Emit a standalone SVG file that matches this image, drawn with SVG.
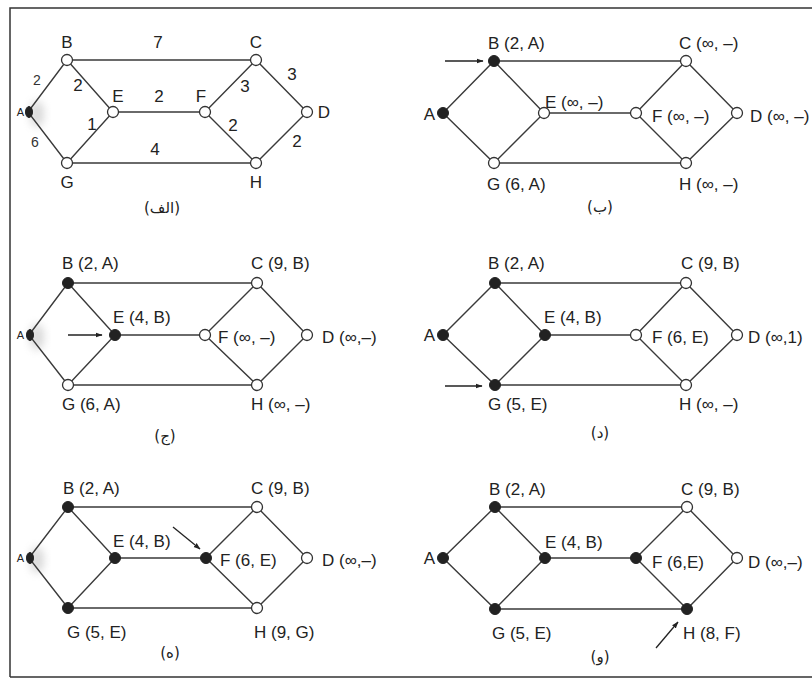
<svg xmlns="http://www.w3.org/2000/svg" width="812" height="687" viewBox="0 0 812 687">
  <style>
    .edge { stroke: #3a3a3a; stroke-width: 1.4; fill: none; }
    .open { fill: #ffffff; stroke: #333333; stroke-width: 1.3; }
    .done { fill: #222222; stroke: #222222; stroke-width: 1; }
    .lbl { font-family: "Liberation Sans", Arial, sans-serif; font-size: 17px; fill: #222222; }
    .w { font-family: "Liberation Sans", Arial, sans-serif; font-size: 17px; fill: #222222; text-anchor: middle; }
    .ws { font-family: "Liberation Sans", Arial, sans-serif; font-size: 14px; fill: #333333; text-anchor: middle; }
    .a-small { font-family: "Liberation Sans Narrow", "Liberation Sans", Arial, sans-serif; font-size: 11px; fill: #222222; text-anchor: end; }
    .cap { font-family: "DejaVu Sans", "Noto Sans", sans-serif; font-size: 15px; fill: #222222; text-anchor: middle; }
    .frame { stroke: #333333; stroke-width: 1.5; fill: none; }
    .ptr { stroke: #222222; stroke-width: 1.3; fill: none; marker-end: url(#head); }
  </style>
  <defs>
    <marker id="head" viewBox="0 0 10 10" refX="9" refY="5" markerWidth="7" markerHeight="7" markerUnits="userSpaceOnUse" orient="auto">
      <path d="M0,1.5 L10,5 L0,8.5 Z" fill="#222222"/>
    </marker>
    <filter id="haze" x="-50%" y="-50%" width="200%" height="200%">
      <feGaussianBlur stdDeviation="4"/>
    </filter>
    <filter id="soft" x="-50%" y="-50%" width="200%" height="200%">
      <feGaussianBlur stdDeviation="0.7"/>
    </filter>
  </defs>

  <rect width="812" height="687" fill="#ffffff"/>

  <!-- page frame -->
  <path class="frame" d="M10,677 V8 H812 M10,677 H812"/>

  <!-- grey smudge beside the source node on the left-hand panels -->
  <g id="smudges" fill="#a8a8a8" opacity="0.45" filter="url(#haze)">
    <ellipse cx="37" cy="114" rx="7" ry="13"/>
    <ellipse cx="37" cy="337" rx="7" ry="13"/>
    <ellipse cx="37" cy="560" rx="7" ry="13"/>
  </g>

  <!-- ===================== connectors ===================== -->
  <g id="connectors">
    <!-- panel (الف) -->
    <path class="edge" d="M28,112 L67,60 L256,60 L307,112 L256,163 L67,163 Z M67,60 L113,112 L67,163 M113,112 L205,112 M256,60 L205,112 L256,163"/>
    <!-- panel (ب) -->
    <path class="edge" d="M443,113 L494,61 L686,61 L737,113 L686,163 L494,163 Z M494,61 L544,113 L494,163 M544,113 L636,113 M686,61 L636,113 L686,163"/>
    <!-- panel (ج) -->
    <path class="edge" d="M29,335 L68,283 L257,283 L307,335 L257,385 L68,385 Z M68,283 L115,335 L68,385 M115,335 L205,335 M257,283 L205,335 L257,385"/>
    <!-- panel (د) -->
    <path class="edge" d="M443,335 L495,283 L686,283 L737,335 L686,385 L495,385 Z M495,283 L545,335 L495,385 M545,335 L636,335 M686,283 L636,335 L686,385"/>
    <!-- panel (ه) -->
    <path class="edge" d="M29,558 L68,507 L257,507 L307,558 L257,608 L68,608 Z M68,507 L115,558 L68,608 M115,558 L206,558 M257,507 L206,558 L257,608"/>
    <!-- panel (و) -->
    <path class="edge" d="M443,558 L495,507 L687,507 L737,558 L687,609 L495,609 Z M495,507 L545,558 L495,609 M545,558 L636,558 M687,507 L636,558 L687,609"/>

    <!-- pointers to the node settled in each step -->
    <line class="ptr" x1="445" y1="61" x2="483" y2="61"/>
    <line class="ptr" x1="68" y1="335" x2="102" y2="335"/>
    <line class="ptr" x1="445" y1="386" x2="482" y2="386"/>
    <line class="ptr" x1="173" y1="527" x2="200" y2="549"/>
    <line class="ptr" x1="656" y1="648" x2="678" y2="622"/>
  </g>

  <!-- edge weights, panel (الف) -->
  <g id="weights">
    <text class="w" x="158" y="48">7</text>
    <text class="ws" x="37" y="85">2</text>
    <text class="w" x="78" y="91">2</text>
    <text class="w" x="159" y="102">2</text>
    <text class="w" x="245" y="92">3</text>
    <text class="w" x="292" y="80">3</text>
    <text class="w" x="92" y="130">1</text>
    <text class="ws" x="35" y="147">6</text>
    <text class="w" x="233" y="131">2</text>
    <text class="w" x="155" y="155">4</text>
    <text class="w" x="297" y="147">2</text>
  </g>

  <!-- ===================== panel (الف) ===================== -->
  <g id="p1-A"><ellipse class="done" cx="29" cy="112" rx="3.5" ry="5.5" filter="url(#soft)"/><text class="a-small" x="24" y="116">A</text></g>
  <g id="p1-B"><circle class="open" cx="67" cy="60" r="5.5"/><text class="w" x="67" y="48">B</text></g>
  <g id="p1-C"><circle class="open" cx="256" cy="60" r="5.5"/><text class="w" x="256" y="48">C</text></g>
  <g id="p1-D"><circle class="open" cx="307" cy="112" r="5.5"/><text class="w" x="324" y="118">D</text></g>
  <g id="p1-E"><circle class="open" cx="113" cy="112" r="5.5"/><text class="w" x="118" y="102">E</text></g>
  <g id="p1-F"><circle class="open" cx="205" cy="112" r="5.5"/><text class="w" x="201" y="102">F</text></g>
  <g id="p1-G"><circle class="open" cx="67" cy="163" r="5.5"/><text class="w" x="67" y="188">G</text></g>
  <g id="p1-H"><circle class="open" cx="256" cy="163" r="5.5"/><text class="w" x="256" y="188">H</text></g>
  <text class="cap" x="162" y="213">(الف)</text>

  <!-- ===================== panel (ب) ===================== -->
  <g id="p2-A"><circle class="done" cx="443" cy="113" r="5.5"/><text class="lbl" x="435" y="120" text-anchor="end">A</text></g>
  <g id="p2-B"><circle class="done" cx="494" cy="61" r="5.5"/><text class="lbl" x="488" y="49">B (2, A)</text></g>
  <g id="p2-C"><circle class="open" cx="686" cy="61" r="5.5"/><text class="lbl" x="679" y="49">C (∞, –)</text></g>
  <g id="p2-D"><circle class="open" cx="737" cy="113" r="5.5"/><text class="lbl" x="750" y="122">D (∞, –)</text></g>
  <g id="p2-E"><circle class="open" cx="544" cy="113" r="5.5"/><text class="lbl" x="545" y="108">E (∞, –)</text></g>
  <g id="p2-F"><circle class="open" cx="636" cy="113" r="5.5"/><text class="lbl" x="652" y="122">F (∞, –)</text></g>
  <g id="p2-G"><circle class="open" cx="494" cy="163" r="5.5"/><text class="lbl" x="487" y="190">G (6, A)</text></g>
  <g id="p2-H"><circle class="open" cx="686" cy="163" r="5.5"/><text class="lbl" x="679" y="190">H (∞, –)</text></g>
  <text class="cap" x="600" y="212">(ب)</text>

  <!-- ===================== panel (ج) ===================== -->
  <g id="p3-A"><ellipse class="done" cx="30" cy="335" rx="3.5" ry="5.5" filter="url(#soft)"/><text class="a-small" x="24" y="339">A</text></g>
  <g id="p3-B"><circle class="done" cx="68" cy="283" r="5.5"/><text class="lbl" x="62" y="269">B (2, A)</text></g>
  <g id="p3-C"><circle class="open" cx="257" cy="283" r="5.5"/><text class="lbl" x="251" y="269">C (9, B)</text></g>
  <g id="p3-D"><circle class="open" cx="307" cy="335" r="5.5"/><text class="lbl" x="322" y="343">D (∞,–)</text></g>
  <g id="p3-E"><circle class="done" cx="115" cy="335" r="5.5"/><text class="lbl" x="113" y="323">E (4, B)</text></g>
  <g id="p3-F"><circle class="open" cx="205" cy="335" r="5.5"/><text class="lbl" x="218" y="343">F (∞, –)</text></g>
  <g id="p3-G"><circle class="open" cx="68" cy="385" r="5.5"/><text class="lbl" x="62" y="410">G (6, A)</text></g>
  <g id="p3-H"><circle class="open" cx="257" cy="385" r="5.5"/><text class="lbl" x="251" y="410">H (∞, –)</text></g>
  <text class="cap" x="165" y="441">(ج)</text>

  <!-- ===================== panel (د) ===================== -->
  <g id="p4-A"><circle class="done" cx="443" cy="335" r="5.5"/><text class="lbl" x="435" y="341" text-anchor="end">A</text></g>
  <g id="p4-B"><circle class="done" cx="495" cy="283" r="5.5"/><text class="lbl" x="488" y="269">B (2, A)</text></g>
  <g id="p4-C"><circle class="open" cx="686" cy="283" r="5.5"/><text class="lbl" x="681" y="269">C (9, B)</text></g>
  <g id="p4-D"><circle class="open" cx="737" cy="335" r="5.5"/><text class="lbl" x="748" y="343">D (∞,1)</text></g>
  <g id="p4-E"><circle class="done" cx="545" cy="335" r="5.5"/><text class="lbl" x="544" y="323">E (4, B)</text></g>
  <g id="p4-F"><circle class="open" cx="636" cy="335" r="5.5"/><text class="lbl" x="652" y="343">F (6, E)</text></g>
  <g id="p4-G"><circle class="done" cx="495" cy="385" r="5.5"/><text class="lbl" x="488" y="410">G (5, E)</text></g>
  <g id="p4-H"><circle class="open" cx="686" cy="385" r="5.5"/><text class="lbl" x="679" y="410">H (∞, –)</text></g>
  <text class="cap" x="600" y="438">(د)</text>

  <!-- ===================== panel (ه) ===================== -->
  <g id="p5-A"><ellipse class="done" cx="30" cy="558" rx="3.5" ry="5.5" filter="url(#soft)"/><text class="a-small" x="24" y="562">A</text></g>
  <g id="p5-B"><circle class="done" cx="68" cy="507" r="5.5"/><text class="lbl" x="63" y="494">B (2, A)</text></g>
  <g id="p5-C"><circle class="open" cx="257" cy="507" r="5.5"/><text class="lbl" x="251" y="494">C (9, B)</text></g>
  <g id="p5-D"><circle class="open" cx="307" cy="558" r="5.5"/><text class="lbl" x="322" y="566">D (∞,–)</text></g>
  <g id="p5-E"><circle class="done" cx="115" cy="558" r="5.5"/><text class="lbl" x="113" y="547">E (4, B)</text></g>
  <g id="p5-F"><circle class="done" cx="206" cy="558" r="5.5"/><text class="lbl" x="220" y="566">F (6, E)</text></g>
  <g id="p5-G"><circle class="done" cx="68" cy="608" r="5.5"/><text class="lbl" x="67" y="638">G (5, E)</text></g>
  <g id="p5-H"><circle class="open" cx="257" cy="608" r="5.5"/><text class="lbl" x="254" y="638">H (9, G)</text></g>
  <text class="cap" x="170" y="658">(ه)</text>

  <!-- ===================== panel (و) ===================== -->
  <g id="p6-A"><circle class="done" cx="443" cy="558" r="5.5"/><text class="lbl" x="435" y="564" text-anchor="end">A</text></g>
  <g id="p6-B"><circle class="done" cx="495" cy="507" r="5.5"/><text class="lbl" x="489" y="495">B (2, A)</text></g>
  <g id="p6-C"><circle class="open" cx="687" cy="507" r="5.5"/><text class="lbl" x="681" y="495">C (9, B)</text></g>
  <g id="p6-D"><circle class="open" cx="737" cy="558" r="5.5"/><text class="lbl" x="748" y="568">D (∞,–)</text></g>
  <g id="p6-E"><circle class="done" cx="545" cy="558" r="5.5"/><text class="lbl" x="545" y="548">E (4, B)</text></g>
  <g id="p6-F"><circle class="done" cx="636" cy="558" r="5.5"/><text class="lbl" x="652" y="568">F (6,E)</text></g>
  <g id="p6-G"><circle class="done" cx="495" cy="609" r="5.5"/><text class="lbl" x="492" y="639">G (5, E)</text></g>
  <g id="p6-H"><circle class="done" cx="687" cy="609" r="5.5"/><text class="lbl" x="683" y="639">H (8, F)</text></g>
  <text class="cap" x="600" y="662">(و)</text>
</svg>
